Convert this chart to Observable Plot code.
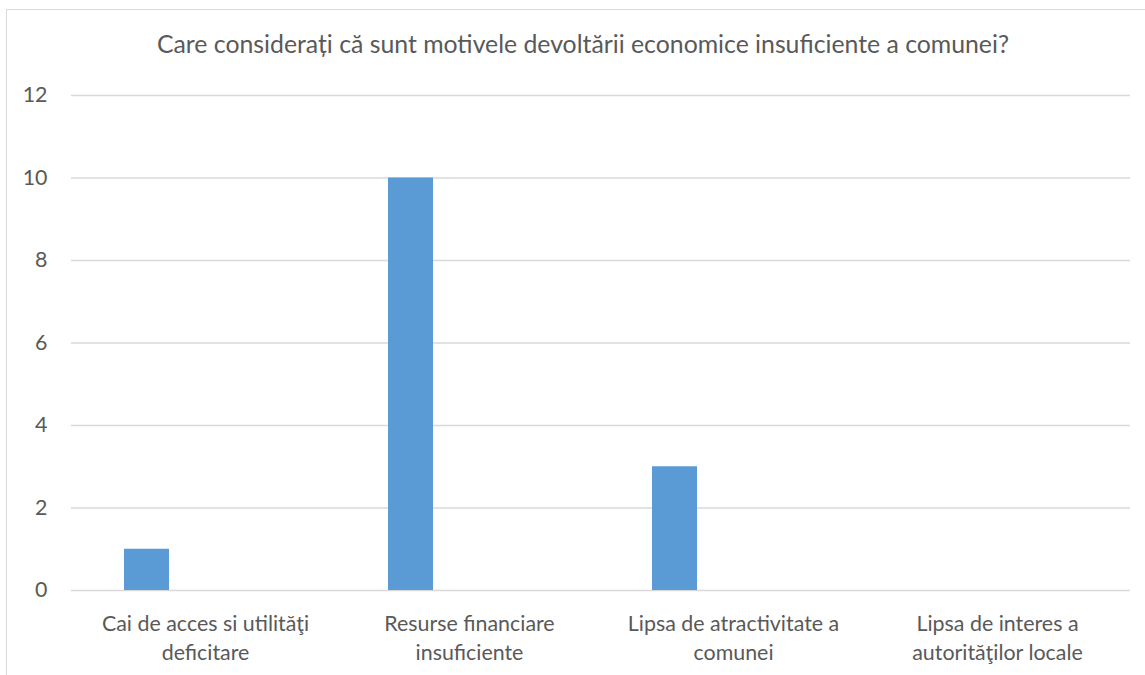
<!DOCTYPE html>
<html>
<head>
<meta charset="utf-8">
<script src="https://cdn.jsdelivr.net/npm/d3@7"></script>
<script src="https://cdn.jsdelivr.net/npm/@observablehq/plot@0.6"></script>
<style>
  html, body { margin: 0; padding: 0; background: #fff; }
  #wrap { position: relative; width: 1145px; height: 675px; overflow: hidden; font-family: Lato, "Open Sans", sans-serif; }
  #frame { position: absolute; left: 6px; top: 9px; width: 1300px; height: 800px; border: 1.5px solid #d9d9d9; box-sizing: border-box; }
  #title { position: absolute; left: 6px; width: 1154px; top: 29px; line-height: 30px; text-align: center; font-size: 24.8px; color: #595959; }
  #chart { position: absolute; left: 0; top: 70px; }
</style>
</head>
<body>
<div id="wrap">
  <div id="frame"></div>
  <div id="title">Care considerați că sunt motivele devoltării economice insuficiente a comunei?</div>
  <div id="chart"></div>
</div>
<script>
const titleText = "Care considerați că sunt motivele devoltării economice insuficiente a comunei?";
const categories = [
  "Cai de acces si utilităţi deficitare",
  "Resurse financiare insuficiente",
  "Lipsa de atractivitate a comunei",
  "Lipsa de interes a autorităţilor locale"
];
const tickLabels = [
  "Cai de acces si utilităţi\ndeficitare",
  "Resurse financiare\ninsuficiente",
  "Lipsa de atractivitate a\ncomunei",
  "Lipsa de interes a\nautorităţilor locale"
];
const values = [1, 10, 3, 0];
const yTicks = [0, 2, 4, 6, 8, 10, 12];

const data = categories.map((c, i) => ({cat: c, value: values[i]}));
const labelOf = new Map(categories.map((c, i) => [c, tickLabels[i]]));

const chart = Plot.plot({
  width: 1145,
  height: 605,
  marginTop: 25,
  marginBottom: 85,
  marginLeft: 71,
  marginRight: 15,
  style: {fontFamily: "Lato, 'Open Sans', sans-serif", color: "#595959", background: "transparent", overflow: "visible"},
  x: {type: "band", domain: categories, padding: 0},
  y: {domain: [0, 12]},
  marks: [
    Plot.gridY(yTicks, {stroke: "#d9d9d9", strokeOpacity: 1, strokeWidth: 1.5}),
    Plot.barY(data, {x: "cat", y: "value", fill: "#5B9BD5", insetLeft: 51, insetRight: 168}),
    Plot.axisY(yTicks, {tickSize: 0, tickPadding: 24, fontSize: 21.4, fill: "#595959", label: null}),
    Plot.axisX({tickSize: 0, tickPadding: 19.5, fontSize: 21.4, fill: "#595959", lineHeight: 1.38, label: null, tickFormat: d => labelOf.get(d)})
  ]
});
document.getElementById("chart").appendChild(chart);
</script>
</body>
</html>
